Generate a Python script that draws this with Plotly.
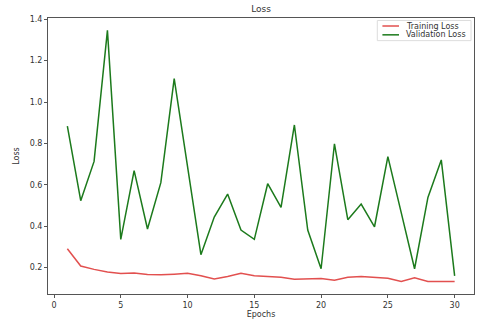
import plotly.graph_objects as go

epochs = list(range(1, 31))
training_loss = [0.291, 0.207, 0.191, 0.178, 0.171, 0.173, 0.166, 0.165, 0.168, 0.172,
                 0.160, 0.144, 0.157, 0.172, 0.160, 0.156, 0.153, 0.143, 0.145, 0.147,
                 0.139, 0.153, 0.156, 0.151, 0.148, 0.133, 0.150, 0.133, 0.133, 0.132]
validation_loss = [0.883, 0.523, 0.713, 1.346, 0.336, 0.668, 0.386, 0.610, 1.113, 0.690,
                   0.262, 0.444, 0.555, 0.381, 0.336, 0.605, 0.491, 0.889, 0.381, 0.194,
                   0.798, 0.431, 0.507, 0.397, 0.736, 0.465, 0.194, 0.539, 0.720, 0.160]
y_ticks = [0.2, 0.4, 0.6, 0.8, 1.0, 1.2, 1.4]
x_ticks = [0, 5, 10, 15, 20, 25, 30]
series_names = ["Training Loss", "Validation Loss"]
series_colors = ["#e2504f", "#1c7a1c"]

font = "DejaVu Sans, Arial, sans-serif"
txt = "#333333"

fig = go.Figure()
for name, vals, col in zip(series_names, [training_loss, validation_loss], series_colors):
    fig.add_trace(go.Scatter(x=epochs, y=vals, mode="lines", name=name,
                             line=dict(color=col, width=1.5), showlegend=False))

axis_common = dict(showgrid=False, zeroline=False, showline=True, mirror=True,
                   linecolor="#555555", linewidth=1, ticks="outside", ticklen=3,
                   tickcolor="#555555", tickfont=dict(family=font, size=8, color=txt))

# compact legend box (matplotlib-like), drawn in paper coordinates
shapes = [dict(type="rect", xref="paper", yref="paper", x0=0.773, x1=0.993, y0=0.918, y1=0.991,
               line=dict(color="#dddddd", width=1), fillcolor="rgba(255,255,255,0.9)", layer="above")]
annotations = []
for i, (name, col) in enumerate(zip(series_names, series_colors)):
    yy = 0.971 - i * 0.032
    shapes.append(dict(type="line", xref="paper", yref="paper", x0=0.785, x1=0.824, y0=yy, y1=yy,
                       line=dict(color=col, width=1.5), layer="above"))
    annotations.append(dict(text=name, xref="paper", yref="paper", x=0.836, y=yy,
                            xanchor="left", yanchor="middle", showarrow=False,
                            font=dict(family=font, size=8, color=txt)))

fig.update_layout(
    width=478, height=320,
    margin=dict(l=48, r=3, t=18, b=22),
    paper_bgcolor="white", plot_bgcolor="white",
    title=dict(text="Loss", x=0.5, xanchor="center", xref="paper", y=0.972, yanchor="middle",
               font=dict(family=font, size=9, color=txt)),
    xaxis=dict(range=[-0.45, 31.45], tickvals=x_ticks, **axis_common,
               title=dict(text="Epochs", font=dict(family=font, size=8, color=txt), standoff=2)),
    yaxis=dict(range=[0.072, 1.406], tickvals=y_ticks, tickformat=".1f", **axis_common,
               title=dict(text="Loss", font=dict(family=font, size=8, color=txt), standoff=8)),
    shapes=shapes,
    annotations=annotations,
    showlegend=False,
)

fig.write_html("out.html")
